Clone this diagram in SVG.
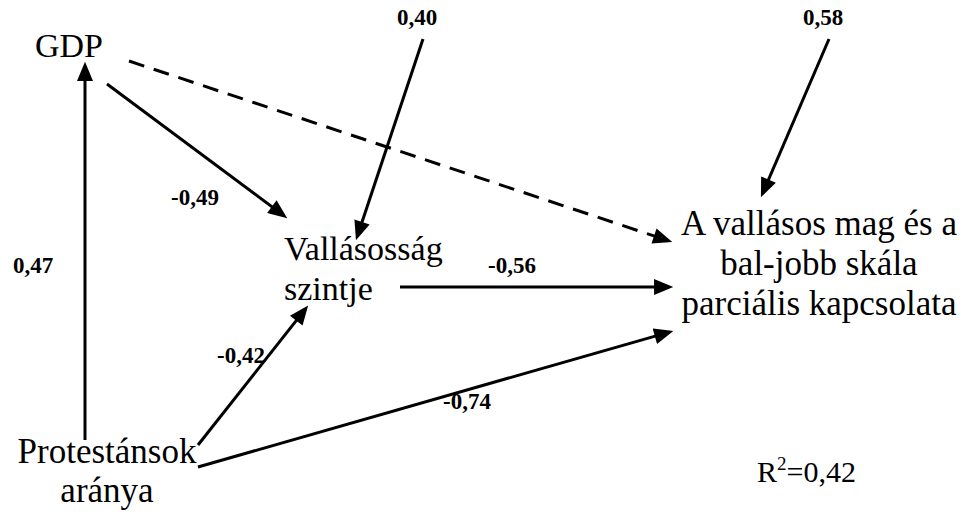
<svg xmlns="http://www.w3.org/2000/svg" width="964" height="514" viewBox="0 0 964 514">
<style>
.node{font-family:"Liberation Serif","Times New Roman",serif;font-size:34px;fill:#000}
.big{font-size:35px}
.lbl{font-family:"Liberation Serif","Times New Roman",serif;font-size:23px;font-weight:bold;fill:#000}
.edge{stroke:#000;stroke-width:3;fill:none;marker-end:url(#arr)}
.dash{stroke-dasharray:16 10}
</style>
<defs>
<marker id="arr" markerUnits="userSpaceOnUse" markerWidth="20" markerHeight="16" refX="14" refY="7.5" orient="auto" viewBox="0 0 18 15">
<path d="M0,0 L18,7.5 L0,15 Z" fill="#000"/>
</marker>
</defs>
<rect width="964" height="514" fill="#fff"/>
<g id="connectors">
<line class="edge" x1="85" y1="440" x2="85" y2="66"/>
<line class="edge" x1="107" y1="84" x2="283.8" y2="215.6"/>
<line class="edge dash" x1="129" y1="61" x2="668.2" y2="240.7"/>
<line class="edge" x1="423" y1="39" x2="357.3" y2="236.2"/>
<line class="edge" x1="829" y1="39" x2="762.6" y2="193.3"/>
<line class="edge" x1="400" y1="287" x2="669" y2="287"/>
<line class="edge" x1="198" y1="445" x2="305.5" y2="308.9"/>
<line class="edge" x1="198" y1="467" x2="669.2" y2="332.1"/>
</g>
<g id="labels">
<text class="lbl" x="417" y="25" text-anchor="middle">0,40</text>
<text class="lbl" x="823" y="25" text-anchor="middle">0,58</text>
<text class="lbl" x="33" y="273" text-anchor="middle">0,47</text>
<text class="lbl" x="195" y="205" text-anchor="middle">-0,49</text>
<text class="lbl" x="241" y="363" text-anchor="middle">-0,42</text>
<text class="lbl" x="512" y="273" text-anchor="middle">-0,56</text>
<text class="lbl" x="467" y="409" text-anchor="middle">-0,74</text>
</g>
<g id="gdp">
<text class="node" x="35" y="57">GDP</text>
</g>
<g id="vallasossag">
<text class="node" x="284" y="260">Vallásosság</text>
<text class="node" x="284" y="300">szintje</text>
</g>
<g id="protestansok">
<text class="node big" x="107" y="463" text-anchor="middle">Protestánsok</text>
<text class="node big" x="107" y="502" text-anchor="middle">aránya</text>
</g>
<g id="target">
<text class="node big" x="819" y="235" text-anchor="middle">A vallásos mag és a</text>
<text class="node big" x="819" y="275" text-anchor="middle">bal-jobb skála</text>
<text class="node big" x="819" y="315" text-anchor="middle">parciális kapcsolata</text>
</g>
<g id="r2">
<text class="node" x="757" y="482" style="font-size:30px">R<tspan dy="-12" style="font-size:19px">2</tspan><tspan dy="12">=0,42</tspan></text>
</g>
</svg>
